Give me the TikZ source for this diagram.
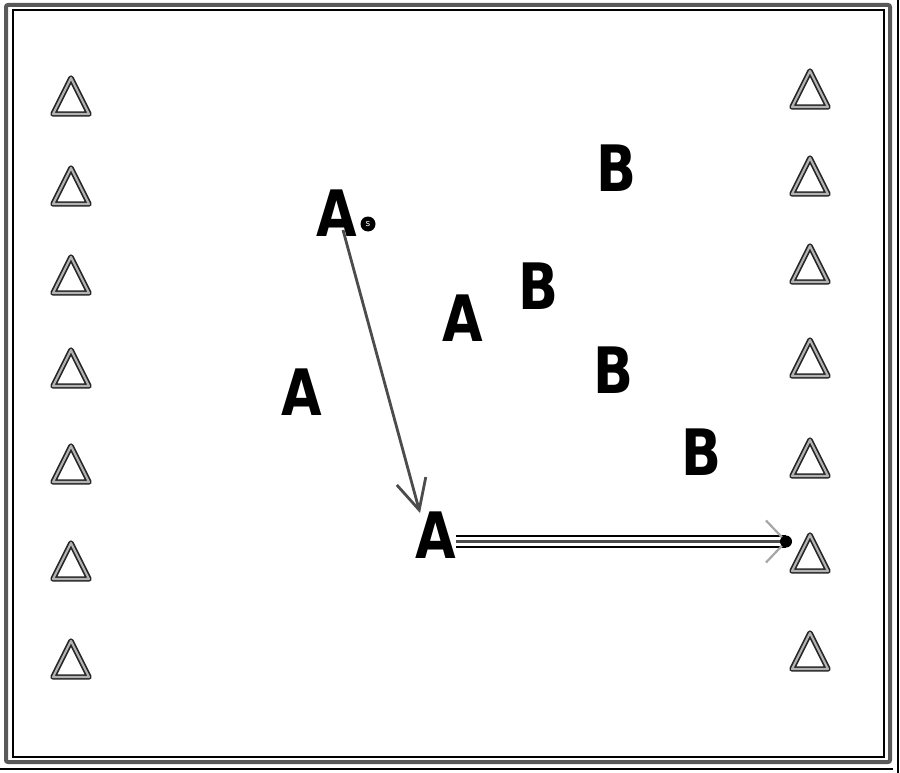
\documentclass[tikz,border=0pt]{standalone}
\usepackage{fontspec}
\setmainfont{DejaVu Sans}
\usetikzlibrary{arrows.meta,calc}
\tikzset{
  letter/.style={inner sep=0pt, font=\bfseries\fontsize{64}{64}\selectfont},
  tri/.pic={\draw[draw=black!85, double=gray!60, line width=1.6pt, double distance=2.2pt, line join=round]
      (0,-19) -- (18,17) -- (-18,17) -- cycle;},
  conn/.style={draw=gray!60!black, line width=2.8pt},
}
\newcommand{\sq}[1]{\scalebox{0.82}[1]{#1}}
\begin{document}
\begin{tikzpicture}[x=1pt,y=-1pt]
\useasboundingbox (0,0) rectangle (900,773);
\fill[white] (0,0) rectangle (900,773);
% frame
\draw[gray!70!black, line width=4pt, rounded corners=2pt] (6,5) rectangle (890,762);
\draw[black, line width=1.3pt] (13,10) rectangle (884,757);
\draw[black, line width=1.3pt] (898,0) -- (898,773);
\draw[black, line width=1.3pt] (0,769) -- (893,769);
% triangles left
\foreach \y [count=\i] in {97,187,276,369,465,562,660}
  \pic (tl\i) at (71,\y) {tri};
% triangles right
\foreach \y [count=\i] in {90,177,265,359,459,554,652}
  \pic (tr\i) at (810,\y) {tri};
% letters
\node[letter] (a0) at (337,213) {\sq{A}};
\node[circle, fill=black, inner sep=0pt, minimum size=15pt, font=\fontsize{9}{9}\selectfont, text=white] (s0) at (368,224) {s};
\node[letter] (a1) at (463,318) {\sq{A}};
\node[letter] (a2) at (302,392) {\sq{A}};
\node[letter] (a3) at (436,535) {\sq{A}};
\node[letter] (b1) at (616,168) {\sq{B}};
\node[letter] (b2) at (538,286) {\sq{B}};
\node[letter] (b3) at (613,370) {\sq{B}};
\node[letter] (b4) at (701,452) {\sq{B}};
% arrow 1
\coordinate (s1) at (343,230);
\coordinate (e1) at (420,513);
\draw[conn, -{Straight Barb[length=30pt,width=30pt]}] (s1) -- (e1);
% arrow 2
\coordinate (s2) at (456,541.5);
\coordinate (e2) at (786,541.5);
\draw[black, line width=2.2pt, double=white, double distance=9pt] (s2) -- (e2);
\draw[gray!60!black, line width=3pt] (s2) -- (e2);
\draw[gray!70, line width=2.2pt] ($(e2)+(-20,-21)$) -- (e2) -- ($(e2)+(-20,21)$);
\fill[black] (e2) circle (6);
\end{tikzpicture}
\end{document}
